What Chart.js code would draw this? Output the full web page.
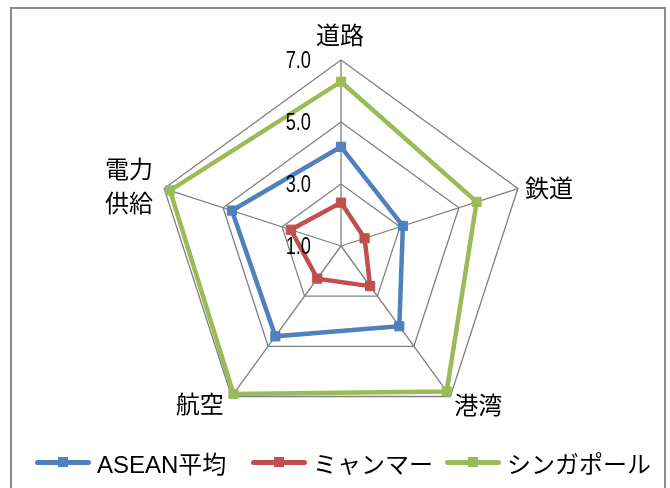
<!DOCTYPE html>
<html lang="ja">
<head>
<meta charset="utf-8">
<script src="https://cdn.jsdelivr.net/npm/chart.js@4/dist/chart.umd.min.js"></script>
<style>
    body { margin: 0; background: #fff; }
    #wrap { position: relative; width: 670px; height: 488px; overflow: hidden; }
    #frame {
        position: absolute; left: 10px; top: 7px; width: 656px; height: 500px;
        border: 2px solid #8a8a8a; box-sizing: border-box;
    }
    #radar { position: absolute; left: 0; top: 0; }
    .legend-item {
        position: absolute; top: 448px; height: 28px;
        display: flex; align-items: center;
        font-family: "Liberation Sans", "Noto Sans CJK JP", sans-serif;
        font-size: 24px; color: #000; white-space: nowrap;
    }
    .legend-mark { position: relative; width: 56px; height: 12px; margin-right: 6px; }
    .legend-mark .line {
        position: absolute; left: 0; right: 0; top: 4px; height: 5px; border-radius: 3px;
    }
    .legend-mark .box {
        position: absolute; left: 23px; top: 1px; width: 10px; height: 10px;
    }
</style>
</head>
<body>
<div id="wrap">
    <div id="frame"></div>
    <canvas id="radar" width="670" height="488"></canvas>
    <div id="customLegend"></div>
</div>
<script>
const axisLabels = ["道路", "鉄道", "港湾", "航空", ["電力", "供給"]];
const tickValues = [1, 3, 5, 7];

const aseanValues = [4.2, 3.1, 4.2, 4.6, 4.7];
const myanmarValues = [2.4, 1.8, 2.6, 2.3, 2.7];
const singaporeValues = [6.3, 5.6, 6.8, 6.9, 6.8];

const seriesNames = ["ASEAN平均", "ミャンマー", "シンガポール"];
const seriesColors = ["#4F81BD", "#C0504D", "#9BBB59"];

const labelFont = "24px 'Noto Sans CJK JP', sans-serif";

// where each axis name sits relative to its outer vertex
const labelPlacement = [
    { align: "center", dx: -1, dy: -25 },
    { align: "left", dx: 7, dy: -1 },
    { align: "left", dx: 4, dy: 8 },
    { align: "right", dx: -8, dy: 7 },
    { align: "right", dx: -11, dy: -20, lineGap: 34 }
];

const axisTextPlugin = {
    id: "axisText",
    afterDraw(chart) {
        const scale = chart.scales.r;
        const ctx = chart.ctx;
        ctx.save();
        ctx.fillStyle = "#000";

        // tick values along the top spoke, narrow digits, right aligned left of it
        ctx.font = "24px 'Liberation Sans', sans-serif";
        ctx.textAlign = "right";
        ctx.textBaseline = "middle";
        tickValues.forEach(v => {
            const y = scale.yCenter - scale.getDistanceFromCenterForValue(v);
            ctx.save();
            ctx.translate(scale.xCenter - 30, y + 1);
            ctx.scale(0.76, 1);
            ctx.fillText(v.toFixed(1), 0, 0);
            ctx.restore();
        });

        ctx.font = labelFont;
        axisLabels.forEach((label, i) => {
            const p = scale.getPointPosition(i, scale.drawingArea);
            const place = labelPlacement[i];
            ctx.textAlign = place.align;
            const lines = Array.isArray(label) ? label : [label];
            lines.forEach((text, j) => {
                ctx.fillText(text, p.x + place.dx, p.y + place.dy + j * (place.lineGap || 0));
            });
        });
        ctx.restore();
    }
};

function makeDataset(name, values, color) {
    return {
        label: name,
        data: values,
        borderColor: color,
        backgroundColor: color,
        borderWidth: 4.5,
        fill: false,
        pointStyle: "rect",
        pointRadius: 6.5,
        pointBorderWidth: 1,
        pointBackgroundColor: color,
        pointBorderColor: color
    };
}

const ctx = document.getElementById("radar").getContext("2d");

new Chart(ctx, {
    type: "radar",
    data: {
        labels: axisLabels,
        datasets: [
            makeDataset(seriesNames[0], aseanValues, seriesColors[0]),
            makeDataset(seriesNames[1], myanmarValues, seriesColors[1]),
            makeDataset(seriesNames[2], singaporeValues, seriesColors[2])
        ]
    },
    options: {
        responsive: false,
        animation: false,
        devicePixelRatio: 1,
        layout: {
            padding: { top: 60, bottom: 56, left: 13, right: 0 }
        },
        elements: { line: { tension: 0 } },
        scales: {
            r: {
                min: 1,
                max: 7,
                ticks: { stepSize: 2, display: false },
                grid: { color: "#808080", lineWidth: 1.3 },
                angleLines: { color: "#808080", lineWidth: 1.3 },
                pointLabels: { display: false }
            }
        },
        plugins: {
            legend: { display: false },
            tooltip: { enabled: false }
        }
    },
    plugins: [axisTextPlugin]
});

// legend: line with a square marker, then the series name
const legendLeft = [35, 251, 445];
const legendContainer = document.getElementById("customLegend");
seriesNames.forEach((name, i) => {
    const item = document.createElement("div");
    item.className = "legend-item";
    item.style.left = legendLeft[i] + "px";

    const mark = document.createElement("div");
    mark.className = "legend-mark";
    const line = document.createElement("div");
    line.className = "line";
    line.style.backgroundColor = seriesColors[i];
    const box = document.createElement("div");
    box.className = "box";
    box.style.backgroundColor = seriesColors[i];
    mark.appendChild(line);
    mark.appendChild(box);

    const text = document.createElement("span");
    text.textContent = name;

    item.appendChild(mark);
    item.appendChild(text);
    legendContainer.appendChild(item);
});
</script>
</body>
</html>
